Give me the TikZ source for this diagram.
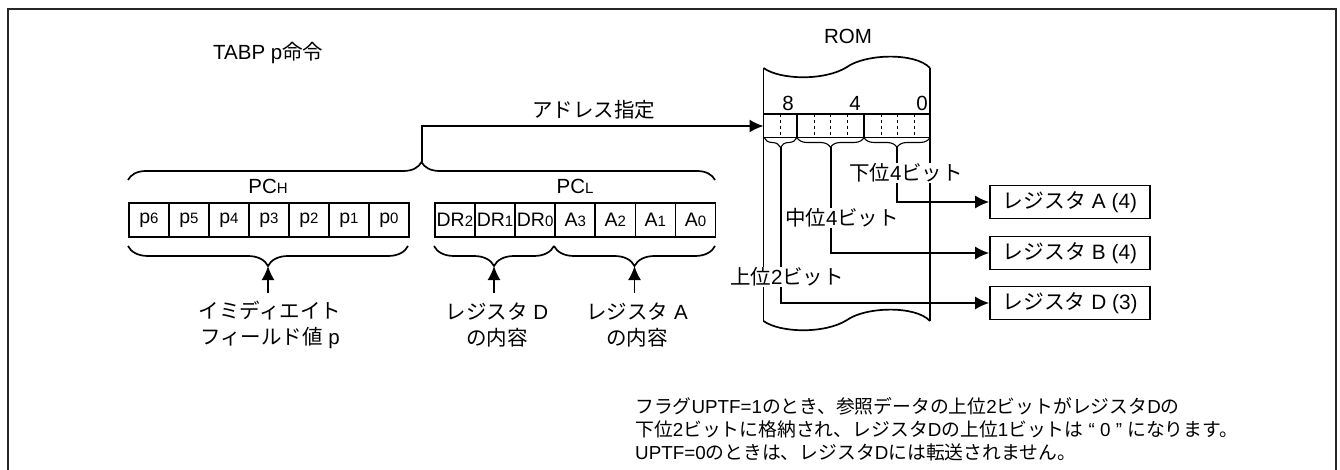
\documentclass[tikz,border=0pt]{standalone}
\usepackage{fontspec}
\setmainfont{Liberation Sans}
\newfontfamily\cjk{Noto Sans CJK JP}
\usetikzlibrary{arrows.meta,decorations.pathreplacing}
\newcommand{\jp}[1]{{\cjk #1}}
\newcommand{\sm}[1]{{\fontsize{15}{15}\selectfont #1}}
\tikzset{
 cellbox/.style={draw,line width=1.7pt,minimum height=34pt,inner sep=0pt,anchor=north west,font=\fontsize{19.5}{22}\selectfont},
 regbox/.style={draw,line width=1.7pt,minimum width=160pt,minimum height=33pt,inner sep=0pt,font=\fontsize{20.8}{24}\selectfont},
 label/.style={inner sep=0pt,font=\fontsize{20.5}{26}\selectfont},
 note/.style={inner sep=0pt,anchor=west,font=\fontsize{18.8}{20}\selectfont},
 bitlabel/.style={inner sep=1pt,fill=white,font=\fontsize{20.5}{24}\selectfont},
 wire/.style={line width=1.7pt},
 arrowwire/.style={line width=1.7pt,-{Latex[length=14pt,width=13pt]}},
 bracebot/.style={line width=1.7pt,decorate,decoration={brace,mirror,amplitude=20pt}},
 bracetop/.style={line width=1.7pt,decorate,decoration={brace,amplitude=18pt}},
 bracerom/.style={line width=1.1pt,decorate,decoration={brace,mirror,amplitude=10pt}}
}
\begin{document}
\begin{tikzpicture}[x=1pt,y=-1pt]
 \useasboundingbox (0,0) rectangle (1340,470);
 \draw[line width=2pt,black!85](8,470)--(8,9)--(1336,9)--(1336,470);
 \node[label,anchor=west] (title) at (213,53) {TABP p\jp{命令}};
 \node[label] (romname) at (848,36) {ROM};
 % ROM body
 \draw[wire](763.5,68) .. controls (780,80) and (825,81) .. (847,67) .. controls (865,54) and (915,52) .. (930,68);
 \draw[wire](763.5,68)--(763.5,321);
 \draw[wire](930,68)--(930,321);
 \draw[wire](763.5,321) .. controls (780,333) and (825,334) .. (847,320) .. controls (865,307) and (915,305) .. (930,321);
 \node[label] (bit8) at (788,103) {8};
 \node[label] (bit4) at (855,103) {4};
 \node[label] (bit0) at (922,103) {0};
 \draw[wire](763.5,114)--(931,114);
 \draw[wire](763.5,137.5)--(931,137.5);
 \draw[wire](797,114)--(797,137.5);
 \draw[wire](864,114)--(864,137.5);
 \draw[line width=0.8pt,dashed](780.5,114)--(780.5,137.5);
 \draw[line width=0.8pt,dashed](814,114)--(814,137.5);
 \draw[line width=0.8pt,dashed](830.5,114)--(830.5,137.5);
 \draw[line width=0.8pt,dashed](847,114)--(847,137.5);
 \draw[line width=0.8pt,dashed](881,114)--(881,137.5);
 \draw[line width=0.8pt,dashed](897,114)--(897,137.5);
 \draw[line width=0.8pt,dashed](914,114)--(914,137.5);
 \coordinate (romin) at (763.5,126);
 \draw[bracerom](764,137.5)--(797,137.5);
 \draw[bracerom](797,137.5)--(864,137.5);
 \draw[bracerom](864,137.5)--(930,137.5);
 \coordinate (tiphi) at (780.7,147.5);
 \coordinate (tipmid) at (830.7,147.5);
 \coordinate (tiplow) at (896.7,147.5);
 % registers
 \node[regbox] (rega) at (1070,202) {\jp{レジスタ} A (4)};
 \node[regbox] (regb) at (1070,253) {\jp{レジスタ} B (4)};
 \node[regbox] (regd) at (1070,303) {\jp{レジスタ} D (3)};
 \draw[arrowwire](tiplow)|-(rega.west);
 \draw[arrowwire](tipmid)|-(regb.west);
 \draw[arrowwire](tiphi)|-(regd.west);
 \node[bitlabel] (lowbits) at (906,173) {\jp{下位}4\jp{ビット}};
 \node[bitlabel] (midbits) at (842,218) {\jp{中位}4\jp{ビット}};
 \node[bitlabel] (highbits) at (787,277) {\jp{上位}2\jp{ビット}};
 % PCH cells
 \node[cellbox,minimum width=40pt] (p6) at (128,202) {p\sm{6}};
 \node[cellbox,minimum width=40pt] (p5) at (168,202) {p\sm{5}};
 \node[cellbox,minimum width=40pt] (p4) at (208,202) {p\sm{4}};
 \node[cellbox,minimum width=40pt] (p3) at (248,202) {p\sm{3}};
 \node[cellbox,minimum width=40pt] (p2) at (288,202) {p\sm{2}};
 \node[cellbox,minimum width=40pt] (p1) at (328,202) {p\sm{1}};
 \node[cellbox,minimum width=40pt] (p0) at (368,202) {p\sm{0}};
 % PCL cells
 \node[cellbox,minimum width=40.1pt] (dr2) at (434,202) {DR\sm{2}};
 \node[cellbox,minimum width=40.1pt] (dr1) at (474.1,202) {DR\sm{1}};
 \node[cellbox,minimum width=40.1pt] (dr0) at (514.2,202) {DR\sm{0}};
 \node[cellbox,minimum width=40.1pt] (a3) at (554.3,202) {A\sm{3}};
 \node[cellbox,minimum width=40.1pt] (a2) at (594.4,202) {A\sm{2}};
 \node[cellbox,minimum width=40.1pt] (a1) at (634.5,202) {A\sm{1}};
 \node[cellbox,minimum width=40.1pt] (a0) at (674.6,202) {A\sm{0}};
 \node[label] (pch) at (268,186) {PC\sm{H}};
 \node[label] (pcl) at (575,186) {PC\sm{L}};
 % address path
 \draw[bracetop](128,180)--(715,180);
 \coordinate (addrtip) at (421.7,162);
 \draw[arrowwire](addrtip)|-(romin);
 \node[label] (addr) at (593.5,110) {\jp{アドレス指定}};
 % lower braces
 \draw[bracebot](128,246)--(408,246);
 \draw[bracebot](434,246)--(554,246);
 \draw[bracebot](554,246)--(715,246);
 \coordinate (tipp) at (268,266);
 \coordinate (tipd) at (494,266);
 \coordinate (tipa) at (634.5,266);
 \node[label,align=center] (immtext) at (270,325) {\jp{イミディエイト}\\\jp{フィールド値} p};
 \node[label,align=center] (dtext) at (497,325) {\jp{レジスタ} D\\\jp{の内容}};
 \node[label,align=center] (atext) at (637,325) {\jp{レジスタ} A\\\jp{の内容}};
 \draw[arrowwire](268,293)--(tipp);
 \draw[arrowwire](494,293)--(tipd);
 \draw[arrowwire](634.5,293)--(tipa);
 % note
 \node[note] (note1) at (635,406) {\jp{フラグ}UPTF=1\jp{のとき、参照データの上位}2\jp{ビットがレジスタ}D\jp{の}};
 \node[note] (note2) at (635,429) {\jp{下位}2\jp{ビットに格納され、レジスタ}D\jp{の上位}1\jp{ビットは} “ 0 ” \jp{になります。}};
 \node[note] (note3) at (635,452) {UPTF=0\jp{のときは、レジスタ}D\jp{には転送されません。}};
\end{tikzpicture}
\end{document}
